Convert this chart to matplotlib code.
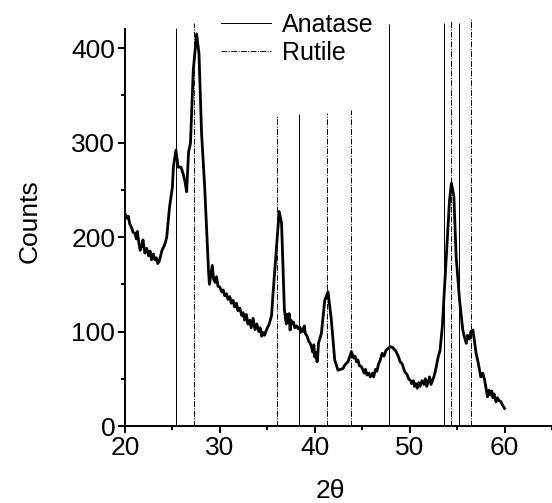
import numpy as np
import matplotlib.pyplot as plt
from matplotlib.ticker import MultipleLocator
from matplotlib.lines import Line2D

plt.rcParams['font.family'] = ['Liberation Sans', 'DejaVu Sans']

# XRD pattern
two_theta = [20.0, 20.2, 20.35, 20.5, 20.7, 20.85, 21.05, 21.2, 21.3, 21.45, 21.6, 21.75, 21.9,
             22.0, 22.1, 22.3, 22.5, 22.65, 22.8, 23.0, 23.15, 23.3, 23.45, 23.6, 23.75, 23.9,
             24.1, 24.25, 24.4, 24.7, 25.0, 25.1, 25.37, 25.6, 25.9, 26.1, 26.3, 26.5, 26.7,
             26.9, 27.2, 27.55, 27.8, 28.07, 28.4, 28.8, 28.9, 29.05, 29.2, 29.35, 29.5, 29.65,
             29.8, 30.0, 30.2, 30.35, 30.5, 30.7, 30.85, 31.05, 31.2, 31.4, 31.55, 31.75, 31.9,
             32.1, 32.3, 32.45, 32.6, 32.8, 32.95, 33.15, 33.3, 33.5, 33.7, 33.9, 34.1, 34.25,
             34.4, 34.55, 34.7, 34.9, 35.2, 35.45, 35.6, 35.97, 36.25, 36.5, 36.8, 37.0, 37.1,
             37.2, 37.3, 37.4, 37.5, 37.6, 37.75, 37.9, 38.1, 38.25, 38.4, 38.5, 38.65, 38.8,
             38.9, 39.0, 39.2, 39.35, 39.5, 39.65, 39.8, 39.9, 40.0, 40.1, 40.25, 40.35, 40.4,
             40.7, 41.05, 41.4, 41.75, 42.1, 42.45, 42.98, 43.2, 43.5, 43.86, 44.1, 44.25, 44.4,
             44.55, 44.7, 44.9, 45.05, 45.2, 45.35, 45.5, 45.7, 45.85, 46.07, 46.2, 46.4, 46.55,
             46.7, 46.9, 47.1, 47.3, 47.5, 47.7, 48.0, 48.2, 48.5, 48.8, 49.0, 49.2, 49.5,
             49.7, 49.9, 50.1, 50.2, 50.4, 50.5, 50.65, 50.8, 50.95, 51.1, 51.3, 51.5, 51.65,
             51.8, 51.95, 52.1, 52.25, 52.4, 52.55, 52.7, 52.85, 53.0, 53.2, 53.44, 53.86, 54.2,
             54.4, 54.66, 54.9, 55.26, 55.6, 55.75, 55.97, 56.1, 56.3, 56.45, 56.66, 56.8, 57.0,
             57.2, 57.5, 57.7, 57.9, 58.05, 58.2, 58.35, 58.5, 58.65, 58.77, 58.9, 59.1, 59.25,
             59.4, 59.6, 59.8, 60.0]
counts = [225, 220, 222, 214, 210, 205, 204, 198, 206, 195, 186, 190, 197,
          190, 183, 188, 180, 185, 176, 182, 176, 178, 172, 174, 180, 186,
          190, 194, 200, 232, 253, 274, 292, 274, 274, 268, 260, 248, 290,
          299, 377, 415, 394, 310, 253, 165, 150, 160, 170, 155, 152, 158,
          148, 147, 142, 144, 138, 140, 134, 137, 130, 133, 126, 130, 122,
          125, 117, 120, 112, 118, 108, 112, 104, 114, 102, 108, 100, 104,
          95, 99, 96, 101.5, 108, 117, 140, 190, 227, 215, 123, 108, 118,
          110, 119, 101.6, 112, 108, 110, 104, 106, 103, 105, 99, 103, 100,
          106, 98, 95, 90, 88, 84, 78, 86, 73, 78, 68, 80, 88,
          98, 133, 142, 112, 70, 59, 61, 65, 68, 78.6, 72, 74, 68,
          70, 64, 63, 60, 56, 60, 54, 56, 52, 56, 52, 60, 58,
          65, 70, 77, 74, 80, 82, 84, 83, 80, 74, 68, 66, 57,
          55, 50, 48, 45, 48, 42, 45, 40, 46, 42, 48, 44, 50,
          42, 47, 52, 44, 48, 52, 58, 65, 73, 80, 105, 179, 239,
          257, 243, 179, 133, 101.6, 95, 87.5, 96, 92, 100, 101.6, 92, 77,
          68, 52, 56, 48.7, 40, 31, 38, 33, 37, 30, 34, 25.7, 30,
          27, 26, 22, 18.7]

# reference peak positions and heights
anatase_pos = [25.37, 38.3, 47.8, 53.6, 55.2]
anatase_h = [421, 330, 425, 427, 427]
rutile_pos = [27.3, 36.0, 41.3, 43.8, 54.4, 56.5]
rutile_h = [427, 328, 331, 334, 429, 431]

dashdot = (0, (6, 1.5, 1, 1.5))

fig = plt.figure(figsize=(5.52, 5.03), dpi=100)
ax = fig.add_axes([0.2264, 0.153, 0.7736, 0.789])

ax.vlines(anatase_pos, 0, anatase_h, colors='black', linewidth=0.7, clip_on=False)
ax.vlines(rutile_pos, 0, rutile_h, colors='black', linewidth=0.7,
          linestyles=dashdot, clip_on=False)
ax.plot(two_theta, counts, color='black', linewidth=2.0)

ax.set_xlim(20, 65)
ax.set_ylim(0, 420)
ax.spines['top'].set_visible(False)
ax.spines['right'].set_visible(False)
ax.spines['left'].set_linewidth(1.4)
ax.spines['bottom'].set_linewidth(1.4)
ax.xaxis.set_major_locator(MultipleLocator(10))
ax.xaxis.set_minor_locator(MultipleLocator(5))
ax.yaxis.set_major_locator(MultipleLocator(100))
ax.yaxis.set_minor_locator(MultipleLocator(50))
ax.tick_params(which='major', length=5, width=1.4, labelsize=19, direction='out', pad=2)
ax.tick_params(which='minor', length=3, width=1.4, direction='out')

ax.set_xlabel('2θ', fontsize=19, va='center')
ax.set_ylabel('Counts', fontsize=19)
ax.xaxis.set_label_coords(0.48, -0.163)
ax.yaxis.set_label_coords(-0.195, 0.516)

handles = [Line2D([], [], color='black', linewidth=0.7),
           Line2D([], [], color='black', linewidth=0.7, linestyle=dashdot)]
ax.legend(handles, ['Anatase', 'Rutile'], loc='upper left', bbox_to_anchor=(0.225, 1.042),
          frameon=False, fontsize=18, handlelength=2.0, handletextpad=0.45,
          labelspacing=0.18, borderaxespad=0, borderpad=0)

fig.savefig('out.png', dpi=100)
